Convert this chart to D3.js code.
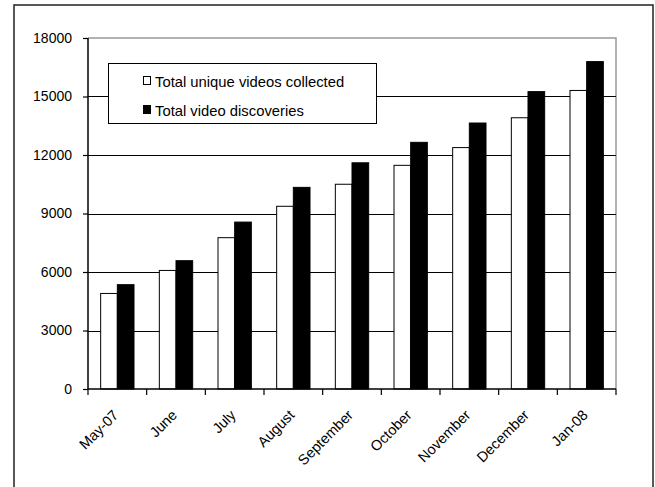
<!DOCTYPE html>
<html>
<head>
<meta charset="utf-8">
<script src="https://cdn.jsdelivr.net/npm/d3@7"></script>
<style>
  html, body { margin: 0; padding: 0; background: #fff; }
  svg { display: block; font-family: "Liberation Sans", Arial, sans-serif; }
</style>
</head>
<body>
<svg id="chart" width="655" height="487"></svg>
<script>
// Monthly totals
const categories = ["May-07", "June", "July", "August", "September", "October", "November", "December", "Jan-08"];
const seriesNames = ["Total unique videos collected", "Total video discoveries"];
const uniqueVideos = [4900, 6080, 7760, 9370, 10500, 11470, 12380, 13910, 15310];
const discoveries = [5350, 6580, 8560, 10340, 11600, 12650, 13640, 15250, 16790];
const yTicks = [0, 3000, 6000, 9000, 12000, 15000, 18000];

const seriesValues = [uniqueVideos, discoveries];
const seriesFill = ["#ffffff", "#000000"];

const svg = d3.select("#chart");
const plot = { left: 88, right: 616, top: 38, bottom: 389 };

// Outer chart frame (runs past the bottom edge)
svg.append("rect")
  .attr("x", 14).attr("y", 5)
  .attr("width", 639).attr("height", 520)
  .attr("fill", "#fff")
  .attr("stroke", "#222").attr("stroke-width", 1.5);

const x = d3.scaleBand().domain(categories).range([plot.left, plot.right]).padding(0);
const xInner = d3.scaleBand().domain(d3.range(seriesNames.length))
  .range([0, x.bandwidth()]).paddingInner(0).paddingOuter(0.76);
const y = d3.scaleLinear().domain([0, 18000]).range([plot.bottom, plot.top]);

// Plot-area border (top and right in grey)
svg.append("path")
  .attr("d", `M${plot.left},${plot.top}H${plot.right}V${plot.bottom}`)
  .attr("fill", "none").attr("stroke", "#999").attr("stroke-width", 1.5);

// Horizontal gridlines
svg.append("g")
  .selectAll("line")
  .data(yTicks.filter(d => d > 0 && d < 18000))
  .join("line")
  .attr("x1", plot.left).attr("x2", plot.right)
  .attr("y1", d => Math.round(y(d)) + 0.5).attr("y2", d => Math.round(y(d)) + 0.5)
  .attr("stroke", "#000").attr("stroke-width", 1.2);

// Bars
const groups = svg.append("g")
  .selectAll("g")
  .data(categories)
  .join("g")
  .attr("transform", d => `translate(${x(d)},0)`);

groups.selectAll("rect")
  .data((d, i) => seriesValues.map((vals, s) => ({ s, v: vals[i] })))
  .join("rect")
  .attr("x", d => xInner(d.s))
  .attr("y", d => y(d.v))
  .attr("width", xInner.bandwidth())
  .attr("height", d => y(0) - y(d.v))
  .attr("fill", d => seriesFill[d.s])
  .attr("stroke", "#000").attr("stroke-width", 1);

// Y axis
const yAxis = d3.axisLeft(y).tickValues(yTicks).tickSize(5).tickPadding(11).tickFormat(d3.format("d"));
const gy = svg.append("g").attr("transform", `translate(${plot.left},0)`).call(yAxis);
gy.select(".domain").attr("stroke", "#000").attr("stroke-width", 1.5).attr("d", `M0,${plot.top}V${plot.bottom}`);
gy.selectAll(".tick line").attr("stroke", "#000").attr("stroke-width", 1.2);
gy.selectAll(".tick text").attr("font-size", 14).attr("fill", "#000")
  .attr("font-family", "Liberation Sans, Arial, sans-serif");

// X axis: ticks on band boundaries
svg.append("line")
  .attr("x1", plot.left).attr("x2", plot.right)
  .attr("y1", plot.bottom).attr("y2", plot.bottom)
  .attr("stroke", "#000").attr("stroke-width", 1.5);

const boundaries = categories.map(c => x(c)).concat([plot.right]);
svg.append("g").selectAll("line")
  .data(boundaries)
  .join("line")
  .attr("x1", d => d).attr("x2", d => d)
  .attr("y1", plot.bottom).attr("y2", plot.bottom + 6)
  .attr("stroke", "#000").attr("stroke-width", 1.2);

svg.append("g").selectAll("text")
  .data(categories)
  .join("text")
  .attr("transform", d => `translate(${x(d) + x.bandwidth() / 2 + 2},${plot.bottom + 27}) rotate(-45)`)
  .attr("text-anchor", "end")
  .attr("font-size", 14.5)
  .attr("fill", "#000")
  .text(d => d);

// Legend
const legend = svg.append("g");
legend.append("rect")
  .attr("x", 108.5).attr("y", 63.5)
  .attr("width", 268).attr("height", 60)
  .attr("fill", "#fff").attr("stroke", "#000").attr("stroke-width", 1);

const legendRows = legend.selectAll("g.row")
  .data(seriesNames)
  .join("g")
  .attr("class", "row")
  .attr("transform", (d, i) => `translate(143,${81 + i * 29})`);

legendRows.append("rect")
  .attr("x", 0.5).attr("y", -4.5)
  .attr("width", 7).attr("height", 8)
  .attr("fill", (d, i) => seriesFill[i])
  .attr("stroke", "#000").attr("stroke-width", 1);

legendRows.append("text")
  .attr("x", 12).attr("y", 5.5)
  .attr("font-size", 14.8)
  .attr("fill", "#000")
  .attr("transform", "scale(1,1.0)")
  .text(d => d);
</script>
</body>
</html>
